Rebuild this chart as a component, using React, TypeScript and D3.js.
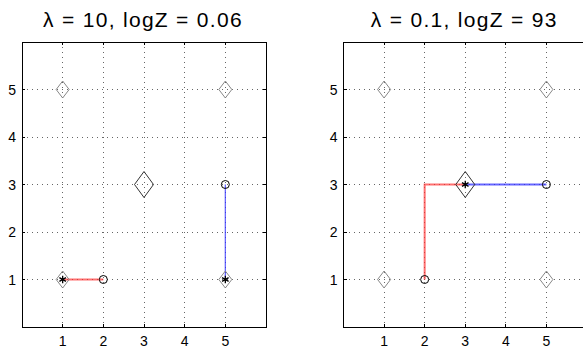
import { useEffect, useRef } from 'react'
import * as d3 from 'd3'

const W = 583
const H = 352

const ticks = [1, 2, 3, 4, 5]
const titles = ['λ = 10, logZ = 0.06', 'λ = 0.1, logZ = 93']

// small gray diamonds and the big one
const smallDiamondX = [1, 5, 1, 5]
const smallDiamondY = [5, 5, 1, 1]
const bigDiamond = [3, 3]

// per panel paths: red and blue, plus circles and stars
const redX = [[1, 2], [2, 2, 3]]
const redY = [[1, 1], [1, 3, 3]]
const blueX = [[5, 5], [3, 5]]
const blueY = [[1, 3], [3, 3]]
const circleX = [[2, 5], [2, 5]]
const circleY = [[1, 3], [1, 3]]
const starX = [[1, 5], [3]]
const starY = [[1, 1], [3]]
const blueWidth = [1.3, 2]

const panels = [
  { left: 22, right: 266 },
  { left: 343.5, right: 587 },
]
const top = 42
const bottom = 327

export default function App() {
  const svgRef = useRef<SVGSVGElement>(null)

  useEffect(() => {
    if (!svgRef.current) return
    const svg = d3.select(svgRef.current)
    svg.selectAll('*').remove()

    panels.forEach((p, pi) => {
      const x = d3.scaleLinear().domain([0, 6]).range([p.left, p.right])
      const y = d3.scaleLinear().domain([0, 6]).range([bottom, top])
      const g = svg.append('g')

      // grid
      g.selectAll('.gx')
        .data(ticks)
        .enter()
        .append('line')
        .attr('x1', (d) => x(d))
        .attr('x2', (d) => x(d))
        .attr('y1', top)
        .attr('y2', bottom)
        .attr('stroke', '#666')
        .attr('stroke-width', 1)
        .attr('stroke-dasharray', '1 4')
        .attr('shape-rendering', 'crispEdges')
      g.selectAll('.gy')
        .data(ticks)
        .enter()
        .append('line')
        .attr('x1', p.left)
        .attr('x2', p.right)
        .attr('y1', (d) => y(d))
        .attr('y2', (d) => y(d))
        .attr('stroke', '#666')
        .attr('stroke-width', 1)
        .attr('stroke-dasharray', '1 4')
        .attr('shape-rendering', 'crispEdges')

      const line = d3
        .line<[number, number]>()
        .x((d) => x(d[0]))
        .y((d) => y(d[1]))

      g.append('path')
        .attr('d', line(redX[pi].map((v, i) => [v, redY[pi][i]]) as [number, number][]))
        .attr('fill', 'none')
        .attr('stroke', '#ff3333')
        .attr('stroke-opacity', 0.7)
        .attr('stroke-width', 2)
      g.append('path')
        .attr('d', line(blueX[pi].map((v, i) => [v, blueY[pi][i]]) as [number, number][]))
        .attr('fill', 'none')
        .attr('stroke', '#3333ff')
        .attr('stroke-opacity', 0.75)
        .attr('stroke-width', blueWidth[pi])

      const diamond = (cx: number, cy: number, hw: number, hh: number) =>
        `M${cx},${cy - hh}L${cx + hw},${cy}L${cx},${cy + hh}L${cx - hw},${cy}Z`

      g.selectAll('.sd')
        .data(smallDiamondX.map((v, i) => [v, smallDiamondY[i]]))
        .enter()
        .append('path')
        .attr('d', (d) => diamond(x(d[0]), y(d[1]), 6.5, 8.5))
        .attr('fill', 'none')
        .attr('stroke', '#888')
        .attr('stroke-width', 1)
      g.append('path')
        .attr('d', diamond(x(bigDiamond[0]), y(bigDiamond[1]), 9.5, 13))
        .attr('fill', 'none')
        .attr('stroke', '#333')
        .attr('stroke-width', 1)

      g.selectAll('.ci')
        .data(circleX[pi].map((v, i) => [v, circleY[pi][i]]))
        .enter()
        .append('circle')
        .attr('cx', (d) => x(d[0]))
        .attr('cy', (d) => y(d[1]))
        .attr('r', 4)
        .attr('fill', 'none')
        .attr('stroke', '#000')
        .attr('stroke-width', 1)

      const star = d3.symbol(d3.symbolAsterisk || d3.symbolCross, 40)
      g.selectAll('.st')
        .data(starX[pi].map((v, i) => [v, starY[pi][i]]))
        .enter()
        .append('path')
        .attr('transform', (d) => `translate(${x(d[0])},${y(d[1])})`)
        .attr('d', star()!)
        .attr('fill', 'none')
        .attr('stroke', '#000')
        .attr('stroke-width', 1.3)

      // frame
      g.append('rect')
        .attr('x', p.left)
        .attr('y', top)
        .attr('width', p.right - p.left)
        .attr('height', bottom - top)
        .attr('fill', 'none')
        .attr('stroke', '#000')
        .attr('stroke-width', 1)
        .attr('shape-rendering', 'crispEdges')

      // inward ticks
      ticks.forEach((t) => {
        g.append('line').attr('x1', x(t)).attr('x2', x(t)).attr('y1', bottom).attr('y2', bottom - 3)
          .attr('stroke', '#000').attr('shape-rendering', 'crispEdges')
        g.append('line').attr('x1', x(t)).attr('x2', x(t)).attr('y1', top).attr('y2', top + 3)
          .attr('stroke', '#000').attr('shape-rendering', 'crispEdges')
        g.append('line').attr('x1', p.left).attr('x2', p.left + 3).attr('y1', y(t)).attr('y2', y(t))
          .attr('stroke', '#000').attr('shape-rendering', 'crispEdges')
        g.append('line').attr('x1', p.right).attr('x2', p.right - 3).attr('y1', y(t)).attr('y2', y(t))
          .attr('stroke', '#000').attr('shape-rendering', 'crispEdges')
      })

      // tick labels
      g.selectAll('.xl')
        .data(ticks)
        .enter()
        .append('text')
        .attr('x', (d) => x(d))
        .attr('y', bottom + 19)
        .attr('text-anchor', 'middle')
        .attr('font-size', '14px')
        .attr('fill', '#000')
        .text((d) => d)
      g.selectAll('.yl')
        .data(ticks)
        .enter()
        .append('text')
        .attr('x', p.left - 6)
        .attr('y', (d) => y(d))
        .attr('dy', '0.36em')
        .attr('text-anchor', 'end')
        .attr('font-size', '14px')
        .attr('fill', '#000')
        .text((d) => d)

      g.append('text')
        .attr('x', (p.left + p.right) / 2 - 1)
        .attr('y', 27)
        .attr('text-anchor', 'middle')
        .attr('font-size', '21px')
        .attr('letter-spacing', '1.3px')
        .attr('fill', '#000')
        .text(titles[pi])
    })
  }, [])

  return (
    <svg
      ref={svgRef}
      width={W}
      height={H}
      style={{ position: 'absolute', left: 0, top: 0, background: '#fff', fontFamily: '"Liberation Sans", Arial, sans-serif' }}
    />
  )
}
